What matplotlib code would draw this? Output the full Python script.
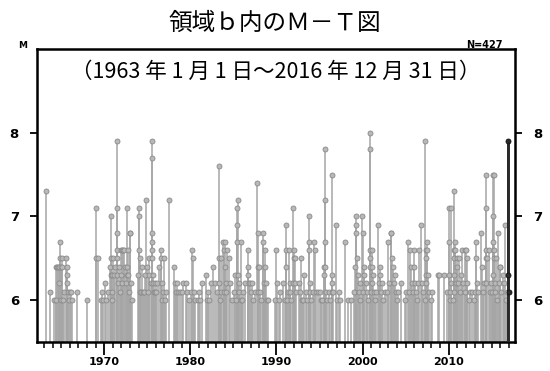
import matplotlib
matplotlib.use("Agg")
import matplotlib.pyplot as plt
from matplotlib.ticker import MultipleLocator, FixedLocator
import numpy as np

# Earthquake catalogue for region b (M >= 6.0), decimal year and magnitude
t_1960s = [1963.22, 1963.72,
           1964.18, 1964.35, 1964.42, 1964.48, 1964.62, 1964.70, 1964.78, 1964.88, 1964.90, 1964.93, 1964.96,
           1965.08, 1965.10, 1965.25, 1965.35, 1965.62, 1965.64, 1965.66, 1965.68, 1965.80, 1965.95,
           1966.05, 1966.20, 1966.30, 1966.90,
           1968.02,
           1969.00, 1969.02, 1969.28, 1969.58, 1969.80, 1969.85]
m_1960s = [7.3, 6.1,
           6.0, 6.4, 6.0, 6.4, 6.4, 6.2, 6.4, 6.7, 6.5, 6.4, 6.0,
           6.5, 6.4, 6.0, 6.1, 6.5, 6.4, 6.3, 6.2, 6.1, 6.0,
           6.1, 6.1, 6.0, 6.1,
           6.0,
           7.1, 6.5, 6.5, 6.0, 6.1, 6.0]

t_1970s = [1970.10, 1970.20, 1970.45, 1970.72, 1970.80, 1970.82, 1970.84, 1970.88, 1970.92, 1970.96,
           1971.05, 1971.10, 1971.30, 1971.48, 1971.49, 1971.50, 1971.51, 1971.52, 1971.53, 1971.60, 1971.70, 1971.78, 1971.90, 1971.95,
           1972.02, 1972.10, 1972.18, 1972.32, 1972.40, 1972.50, 1972.62, 1972.64, 1972.66, 1972.72, 1972.80, 1972.88, 1972.98,
           1973.05, 1973.15, 1973.25, 1973.90,
           1974.05, 1974.07, 1974.09, 1974.11, 1974.20, 1974.30, 1974.40, 1974.50, 1974.60, 1974.75, 1974.88, 1974.95,
           1975.05, 1975.15, 1975.25, 1975.40, 1975.55, 1975.56, 1975.57, 1975.58, 1975.59, 1975.60, 1975.62, 1975.64, 1975.75, 1975.85, 1975.95,
           1976.05, 1976.15, 1976.42, 1976.58, 1976.60, 1976.68, 1976.75, 1976.88,
           1977.00, 1977.10, 1977.20, 1977.55,
           1978.08, 1978.20, 1978.35, 1978.50, 1978.52, 1978.80,
           1979.00, 1979.15, 1979.45, 1979.60, 1979.90]
m_1970s = [6.2, 6.0, 6.1, 6.4, 7.0, 6.5, 6.3, 6.3, 6.1, 6.0,
           6.5, 6.3, 6.4, 7.9, 7.1, 6.8, 6.6, 6.5, 6.3, 6.2, 6.4, 6.1, 6.6, 6.3,
           6.6, 6.2, 6.6, 6.6, 6.4, 6.2, 7.1, 6.4, 6.3, 6.6, 6.3, 6.1, 6.8,
           6.8, 6.2, 6.0, 6.3,
           7.1, 7.0, 6.6, 6.5, 6.1, 6.1, 6.4, 6.1, 6.1, 6.3, 7.2, 6.4,
           6.1, 6.3, 6.5, 6.2, 7.9, 7.7, 6.8, 6.7, 6.6, 6.5, 6.3, 6.2, 6.1, 6.2, 6.1,
           6.1, 6.2, 6.4, 6.6, 6.5, 6.0, 6.2, 6.1,
           6.5, 6.0, 6.1, 7.2,
           6.4, 6.2, 6.1, 6.2, 6.1, 6.1,
           6.1, 6.2, 6.2, 6.1, 6.0]

t_1980s = [1980.05, 1980.18, 1980.30, 1980.40, 1980.55, 1980.85,
           1981.00, 1981.15, 1981.30, 1981.78, 1981.90,
           1982.05, 1982.20, 1982.35, 1982.58, 1982.85,
           1983.05, 1983.28, 1983.29, 1983.30, 1983.45, 1983.52, 1983.62, 1983.78, 1983.88, 1983.95,
           1984.00, 1984.02, 1984.10, 1984.20, 1984.30, 1984.45, 1984.55, 1984.85,
           1985.05, 1985.15, 1985.25, 1985.38, 1985.40, 1985.42, 1985.50, 1985.52, 1985.60, 1985.70, 1985.85, 1985.92,
           1986.00, 1986.10, 1986.30, 1986.68, 1986.70, 1986.72, 1986.80, 1986.95,
           1987.05, 1987.15, 1987.30, 1987.50, 1987.78, 1987.80, 1987.82, 1987.90,
           1988.00, 1988.05, 1988.20, 1988.45, 1988.47, 1988.55, 1988.65, 1988.67, 1988.75, 1988.88,
           1989.05, 1989.85]
m_1980s = [6.1, 6.6, 6.5, 6.1, 6.0, 6.0,
           6.1, 6.0, 6.2, 6.3, 6.0,
           6.1, 6.0, 6.2, 6.4, 6.2,
           6.1, 7.6, 6.5, 6.2, 6.0, 6.5, 6.1, 6.7, 6.6, 6.1,
           6.7, 6.4, 6.1, 6.2, 6.6, 6.5, 6.2, 6.0,
           6.1, 6.3, 6.0, 7.1, 6.9, 6.7, 7.2, 6.3, 6.1, 6.2, 6.7, 6.0,
           6.0, 6.1, 6.2, 6.6, 6.4, 6.3, 6.2, 6.2,
           6.1, 6.2, 6.0, 6.1, 7.4, 6.8, 6.4, 6.1,
           6.4, 6.1, 6.0, 6.8, 6.7, 6.2, 6.6, 6.4, 6.2, 6.0,
           6.0, 6.0]

t_1990s = [1990.00, 1990.08, 1990.25, 1990.45, 1990.80,
           1991.05, 1991.12, 1991.14, 1991.16, 1991.20, 1991.35, 1991.50, 1991.52, 1991.54, 1991.72, 1991.88, 1991.95,
           1992.05, 1992.07, 1992.15, 1992.17, 1992.30, 1992.60, 1992.75, 1992.88, 1992.95,
           1993.10, 1993.25, 1993.40, 1993.55, 1993.75, 1993.77, 1993.79, 1993.85, 1993.95,
           1994.05, 1994.20, 1994.40, 1994.42, 1994.55, 1994.85,
           1995.00, 1995.15, 1995.30, 1995.48, 1995.50, 1995.58, 1995.59, 1995.60, 1995.61, 1995.75, 1995.85,
           1996.05, 1996.20, 1996.40, 1996.41, 1996.42, 1996.43, 1996.55, 1996.88,
           1997.00, 1997.30, 1997.40,
           1998.00, 1998.30, 1998.70,
           1999.05, 1999.15, 1999.25, 1999.27, 1999.29, 1999.40, 1999.42, 1999.55, 1999.65, 1999.75, 1999.90]
m_1990s = [6.6, 6.2, 6.0, 6.1, 6.2,
           6.0, 6.9, 6.6, 6.4, 6.0, 6.1, 6.6, 6.2, 6.1, 6.0, 7.1, 6.2,
           6.6, 6.5, 6.5, 6.2, 6.1, 6.2, 6.1, 6.5, 6.0,
           6.0, 6.3, 6.1, 6.0, 7.0, 6.7, 6.6, 6.2, 6.1,
           6.0, 6.1, 6.7, 6.6, 6.1, 6.1,
           6.1, 6.0, 6.0, 6.4, 6.3, 7.8, 7.2, 6.7, 6.4, 6.1, 6.0,
           6.1, 6.0, 7.5, 6.3, 6.2, 6.1, 6.1, 6.9,
           6.0, 6.1, 6.0,
           6.7, 6.0, 6.0,
           6.1, 6.4, 7.0, 6.9, 6.8, 6.5, 6.3, 6.1, 6.2, 6.0, 7.0]

t_2000s = [2000.00, 2000.10, 2000.20, 2000.22, 2000.35, 2000.50, 2000.65, 2000.88, 2000.89, 2000.90, 2000.91, 2000.92, 2000.97,
           2001.05, 2001.07, 2001.09, 2001.20, 2001.30, 2001.45, 2001.60, 2001.78, 2001.88,
           2002.00, 2002.02, 2002.15, 2002.25, 2002.40, 2002.55, 2002.85,
           2003.00, 2003.10, 2003.28, 2003.35, 2003.45, 2003.55, 2003.65, 2003.75, 2003.90,
           2004.00, 2004.15, 2004.50, 2004.95,
           2005.10, 2005.30, 2005.40, 2005.55, 2005.57, 2005.70, 2005.85,
           2006.00, 2006.02, 2006.04, 2006.15, 2006.30, 2006.45, 2006.60, 2006.78, 2006.90,
           2007.05, 2007.20, 2007.30, 2007.31, 2007.32, 2007.33, 2007.34, 2007.50, 2007.52, 2007.62, 2007.75, 2007.90,
           2008.10, 2008.70, 2008.90,
           2009.50, 2009.85]
m_2000s = [6.8, 6.1, 6.4, 6.3, 6.2, 6.1, 6.0, 8.0, 7.8, 6.6, 6.5, 6.4, 6.1,
           6.6, 6.4, 6.2, 6.3, 6.1, 6.0, 6.1, 6.9, 6.2,
           6.4, 6.3, 6.1, 6.2, 6.0, 6.1, 6.1,
           6.7, 6.2, 6.8, 6.8, 6.5, 6.4, 6.2, 6.3, 6.1,
           6.0, 6.1, 6.2, 6.0,
           6.1, 6.7, 6.1, 6.6, 6.4, 6.2, 6.1,
           6.6, 6.4, 6.2, 6.1, 6.0, 6.2, 6.6, 6.9, 6.2,
           6.1, 6.0, 7.9, 6.6, 6.5, 6.3, 6.2, 6.7, 6.6, 6.3, 6.1, 6.0,
           6.1, 6.3, 6.3,
           6.3, 6.1]

t_2010s = [2010.00, 2010.02, 2010.04, 2010.10, 2010.20, 2010.30, 2010.32, 2010.45, 2010.60, 2010.61, 2010.62, 2010.63, 2010.64, 2010.75, 2010.77, 2010.90,
           2011.00, 2011.02, 2011.10, 2011.20, 2011.30, 2011.40, 2011.58, 2011.70, 2011.85, 2011.95,
           2012.05, 2012.07, 2012.15, 2012.30, 2012.45, 2012.75, 2012.90,
           2013.05, 2013.20, 2013.22, 2013.30, 2013.45, 2013.78, 2013.90,
           2014.00, 2014.10, 2014.28, 2014.29, 2014.30, 2014.31, 2014.32, 2014.45, 2014.70, 2014.80, 2014.92,
           2015.00, 2015.10, 2015.18, 2015.19, 2015.20, 2015.21, 2015.22, 2015.30, 2015.32, 2015.40, 2015.50, 2015.60, 2015.70, 2015.80, 2015.90,
           2016.00, 2016.10, 2016.25, 2016.40, 2016.58, 2016.70, 2016.80]
m_2010s = [7.1, 6.7, 6.3, 6.1, 6.0, 7.1, 6.2, 6.0, 7.3, 6.6, 6.5, 6.3, 6.1, 6.7, 6.6, 6.2,
           6.5, 6.4, 6.2, 6.5, 6.1, 6.3, 6.6, 6.2, 6.6, 6.1,
           6.6, 6.5, 6.2, 6.0, 6.1, 6.1, 6.0,
           6.1, 6.7, 6.5, 6.2, 6.1, 6.8, 6.4,
           6.1, 6.2, 7.5, 7.1, 6.6, 6.5, 6.2, 6.5, 6.6, 6.1, 6.2,
           6.1, 6.3, 7.5, 7.0, 6.7, 6.6, 6.5, 7.5, 6.2, 6.1, 6.5, 6.0, 6.8, 6.2, 6.4,
           6.4, 6.1, 6.3, 6.2, 6.9, 6.0, 6.1]

# Most recent month (December 2016), drawn in black
t_recent = [2016.93, 2016.94, 2016.95]
m_recent = [7.9, 6.3, 6.1]

times = np.array(t_1960s + t_1970s + t_1980s + t_1990s + t_2000s + t_2010s)
mags = np.array(m_1960s + m_1970s + m_1980s + m_1990s + m_2000s + m_2010s)
n_events = len(times) + len(t_recent)

x_min, x_max = 1962.2, 2017.7
y_min, y_max = 5.5, 9.0
decade_ticks = [1970, 1980, 1990, 2000, 2010]
mag_ticks = [6, 7, 8]

plt.rcParams['font.family'] = ['Noto Sans CJK JP', 'DejaVu Sans']

fig = plt.figure(figsize=(5.5, 3.71), dpi=100)
ax = fig.add_axes([0.0673, 0.0782, 0.8691, 0.7898])

grey = '#a6a6a6'
ax.vlines(times, y_min, mags, colors=grey, linewidth=1.1, zorder=2)
ax.plot(times, mags, 'o', ms=3.6, mfc='#b8b8b8', mec='#8a8a8a', mew=0.6, zorder=3)
ax.vlines(t_recent, y_min, max(m_recent), colors='#2a2a2a', linewidth=1.4, zorder=4)
ax.plot(t_recent, m_recent, 'o', ms=3.6, mfc='#2a2a2a', mec='#111111', mew=0.6, zorder=5)

ax.set_xlim(x_min, x_max)
ax.set_ylim(y_min, y_max)

for s in ax.spines.values():
    s.set_linewidth(1.8)
    s.set_color('black')

ax.xaxis.set_major_locator(FixedLocator(decade_ticks))
ax.xaxis.set_minor_locator(MultipleLocator(1))
ax.yaxis.set_major_locator(FixedLocator(mag_ticks))
ax.tick_params(axis='x', which='major', direction='out', length=9, width=1.3,
               labelsize=8, pad=2)
ax.tick_params(axis='x', which='minor', direction='out', length=4, width=1.1)
ax.tick_params(axis='y', which='major', direction='out', length=5, width=1.3,
               left=True, right=True, labelleft=True, labelright=True,
               labelsize=9.5, pad=8)
for lab in ax.get_xticklabels() + ax.get_yticklabels():
    lab.set_fontweight('bold')
    lab.set_family('DejaVu Sans')

fig.text(0.5, 0.937, '領域ｂ内のＭ－Ｔ図', ha='center', va='center', fontsize=17)
ax.text(0.5, 0.922, '（1963 年 1 月 1 日～2016 年 12 月 31 日）', transform=ax.transAxes,
        ha='center', va='center', fontsize=15.5)
fig.text(0.041, 0.878, 'M', ha='center', va='center', fontsize=6.5,
         fontweight='bold', family='DejaVu Sans')
fig.text(0.913, 0.878, f'N={n_events}', ha='right', va='center', fontsize=7,
         fontweight='bold', family='DejaVu Sans')

fig.savefig('out.png', dpi=100)
